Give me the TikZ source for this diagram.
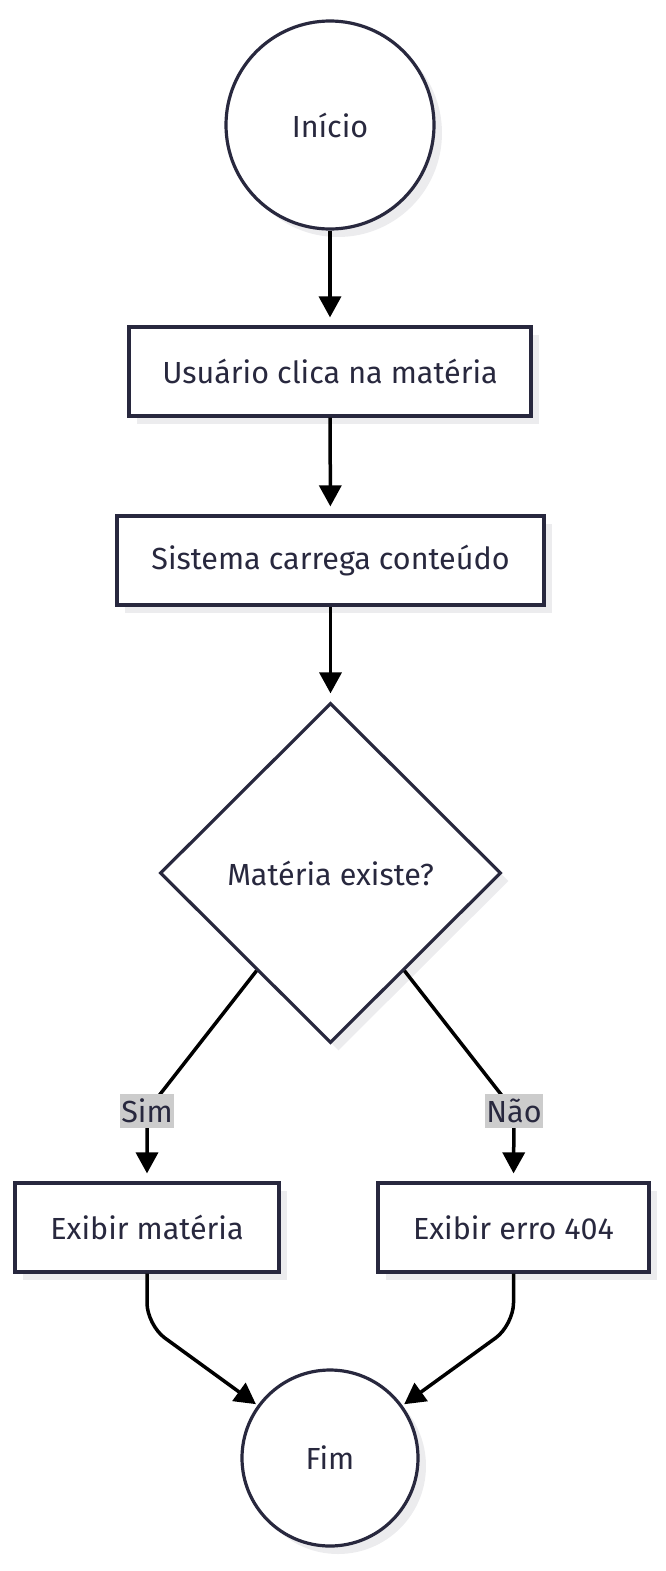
\documentclass[tikz,border=0pt]{standalone}
\usepackage{fontspec}
\setmainfont{Fira Sans}
\usetikzlibrary{shapes.geometric,arrows.meta,shadows,calc}

\definecolor{ink}{RGB}{40,40,62}
\definecolor{shade}{RGB}{236,236,238}
\definecolor{tagbg}{RGB}{204,204,204}

\tikzset{
  box/.style={draw=ink, line width=3.2pt, fill=white, text=ink, minimum height=89pt,
    drop shadow={shadow xshift=8pt, shadow yshift=-8pt, fill=shade, opacity=1}},
  round/.style={box, circle, inner sep=0pt},
  ask/.style={box, diamond, inner sep=0pt, minimum width=341pt, minimum height=340pt},
  flow/.style={line width=3.5pt, black, -{Triangle[length=21pt,width=22pt]}, shorten >=8pt},
  tag/.style={sharp corners, fill=tagbg, text=ink, inner xsep=1pt, inner ysep=5pt}
}

\begin{document}
\begin{tikzpicture}[x=1pt,y=1pt,yscale=-1,font=\fontsize{30.5}{36}\selectfont]
\useasboundingbox (0,0) rectangle (666,1571);

% nodes
\node[round, minimum size=208pt] (ini) at (330,125) {Início};
\node[box, minimum width=402pt] (clk) at (330,371.5) {Usuário clica na matéria};
\node[box, minimum width=427pt] (load) at (330.5,560.5) {Sistema carrega conteúdo};
\node[ask] (q) at (330.5,873) {Matéria existe?};
\node[box, minimum width=264pt] (ex1) at (147,1227.5) {Exibir matéria};
\node[box, minimum width=271pt] (ex2) at (513.5,1227.5) {Exibir erro 404};
\node[round, minimum size=176pt] (fim) at (330,1458) {Fim};

% label points
\coordinate (qsim) at ($(q.west)!0.57!(q.south)$);
\coordinate (qnao) at ($(q.east)!0.57!(q.south)$);
\coordinate (sim) at (147,1111);
\coordinate (nao) at (514,1111);

% connectors
\draw[flow] (ini) -- (clk);
\draw[flow] (clk) -- (load);
\draw[flow] (load) -- (q);
\draw[flow, rounded corners=10pt] (qsim) -- (sim) node[tag]{Sim} -- (ex1.north);
\draw[flow, rounded corners=10pt] (qnao) -- (nao) node[tag]{Não} -- (ex2.north);
\draw[flow, rounded corners=22pt, shorten >=2pt] (ex1.south) -- (147,1325) -- (fim);
\draw[flow, rounded corners=22pt, shorten >=2pt] (ex2.south) -- (513.5,1325) -- (fim);

\end{tikzpicture}
\end{document}
